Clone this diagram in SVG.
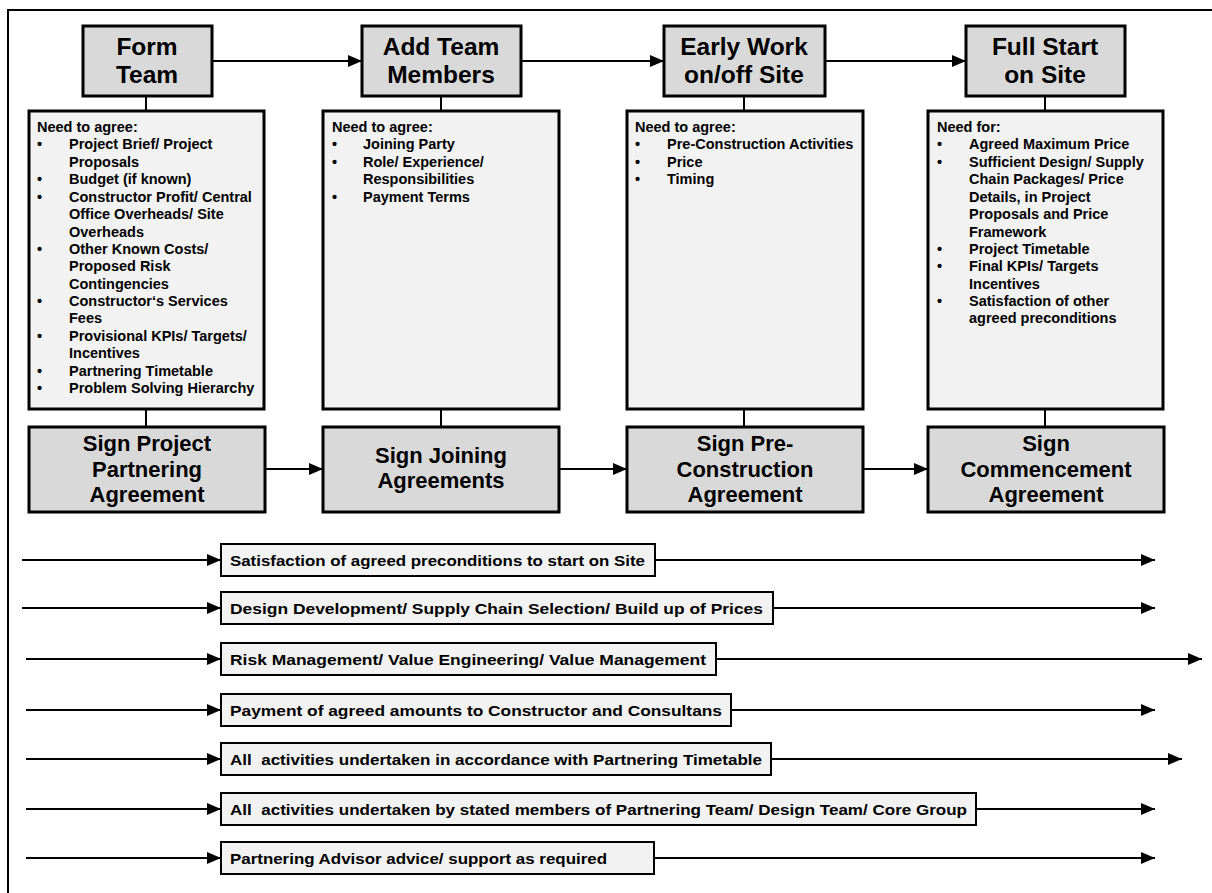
<svg xmlns="http://www.w3.org/2000/svg" width="1212" height="893" viewBox="0 0 1212 893">
  <defs>
    <marker id="arrow" markerUnits="userSpaceOnUse" markerWidth="14" markerHeight="12" refX="14" refY="6" orient="auto">
      <path d="M0,0 L14,6 L0,12 Z" fill="#000"/>
    </marker>
    <style>
      .stage { fill: #d9d9d9; stroke: #000; stroke-width: 3; }
      .list { fill: #f2f2f2; stroke: #000; stroke-width: 3; }
      .bar { fill: #f2f2f2; stroke: #000; stroke-width: 2; }
      .link { stroke: #000; stroke-width: 2; fill: none; }
      .flow { stroke: #000; stroke-width: 2; fill: none; marker-end: url(#arrow); }
      .title { font-family: "Liberation Sans", Arial, sans-serif; font-weight: bold; font-size: 24.5px; text-anchor: middle; fill: #000; }
      .sign { font-family: "Liberation Sans", Arial, sans-serif; font-weight: bold; font-size: 22px; text-anchor: middle; fill: #000; }
      .item { font-family: "Liberation Sans", Arial, sans-serif; font-weight: bold; font-size: 14.5px; fill: #000; }
      .label { font-family: "Liberation Sans", Arial, sans-serif; font-weight: bold; font-size: 15.5px; fill: #000; }
    </style>
  </defs>

  <rect width="1212" height="893" fill="#fff"/>
  <!-- outer frame (runs off the right and bottom edges) -->
  <rect x="8" y="10" width="1230" height="900" fill="none" stroke="#000" stroke-width="2"/>

  <!-- connectors -->
  <g id="connectors">
    <line class="flow" x1="212" y1="61" x2="362" y2="61"/>
    <line class="flow" x1="521" y1="61" x2="664" y2="61"/>
    <line class="flow" x1="825" y1="61" x2="966" y2="61"/>

    <line class="link" x1="146" y1="96" x2="146" y2="111"/>
    <line class="link" x1="441" y1="96" x2="441" y2="111"/>
    <line class="link" x1="744" y1="96" x2="744" y2="111"/>
    <line class="link" x1="1045" y1="96" x2="1045" y2="111"/>

    <line class="link" x1="146" y1="409" x2="146" y2="427"/>
    <line class="link" x1="441" y1="409" x2="441" y2="427"/>
    <line class="link" x1="744" y1="409" x2="744" y2="427"/>
    <line class="link" x1="1045" y1="409" x2="1045" y2="427"/>

    <line class="flow" x1="265" y1="469" x2="323" y2="469"/>
    <line class="flow" x1="559" y1="469" x2="627" y2="469"/>
    <line class="flow" x1="863" y1="469" x2="928" y2="469"/>

    <line class="flow" x1="22" y1="560" x2="221" y2="560"/>
    <line class="flow" x1="655" y1="560" x2="1155" y2="560"/>
    <line class="flow" x1="22" y1="608" x2="221" y2="608"/>
    <line class="flow" x1="773" y1="608" x2="1155" y2="608"/>
    <line class="flow" x1="26" y1="659" x2="221" y2="659"/>
    <line class="flow" x1="716" y1="659" x2="1202" y2="659"/>
    <line class="flow" x1="26" y1="710" x2="221" y2="710"/>
    <line class="flow" x1="731" y1="710" x2="1155" y2="710"/>
    <line class="flow" x1="26" y1="759" x2="221" y2="759"/>
    <line class="flow" x1="771" y1="759" x2="1182" y2="759"/>
    <line class="flow" x1="26" y1="809" x2="221" y2="809"/>
    <line class="flow" x1="976" y1="809" x2="1155" y2="809"/>
    <line class="flow" x1="26" y1="858" x2="221" y2="858"/>
    <line class="flow" x1="654" y1="858" x2="1155" y2="858"/>
  </g>

  <!-- stage headers -->
  <g id="form-team">
    <rect class="stage" x="83" y="26" width="129" height="70"/>
    <text class="title" x="147" y="55">Form</text>
    <text class="title" x="147" y="83">Team</text>
  </g>
  <g id="add-team-members">
    <rect class="stage" x="362" y="26" width="159" height="70"/>
    <text class="title" x="441" y="55">Add Team</text>
    <text class="title" x="441" y="83">Members</text>
  </g>
  <g id="early-work">
    <rect class="stage" x="664" y="26" width="161" height="70"/>
    <text class="title" x="744" y="55">Early Work</text>
    <text class="title" x="744" y="83">on/off Site</text>
  </g>
  <g id="full-start">
    <rect class="stage" x="966" y="26" width="159" height="70"/>
    <text class="title" x="1045" y="55">Full Start</text>
    <text class="title" x="1045" y="83">on Site</text>
  </g>

  <!-- requirement lists -->
  <g id="list-form-team">
    <rect class="list" x="29" y="111" width="235" height="298"/>
    <text class="item" x="37" y="132">Need to agree:</text>
    <text class="item" x="37" y="149">•</text><text class="item" x="69" y="149">Project Brief/ Project</text>
    <text class="item" x="69" y="167">Proposals</text>
    <text class="item" x="37" y="184">•</text><text class="item" x="69" y="184">Budget (if known)</text>
    <text class="item" x="37" y="202">•</text><text class="item" x="69" y="202">Constructor Profit/ Central</text>
    <text class="item" x="69" y="219">Office Overheads/ Site</text>
    <text class="item" x="69" y="237">Overheads</text>
    <text class="item" x="37" y="254">•</text><text class="item" x="69" y="254">Other Known Costs/</text>
    <text class="item" x="69" y="271">Proposed Risk</text>
    <text class="item" x="69" y="289">Contingencies</text>
    <text class="item" x="37" y="306">•</text><text class="item" x="69" y="306">Constructor‘s Services</text>
    <text class="item" x="69" y="323">Fees</text>
    <text class="item" x="37" y="341">•</text><text class="item" x="69" y="341">Provisional KPIs/ Targets/</text>
    <text class="item" x="69" y="358">Incentives</text>
    <text class="item" x="37" y="376">•</text><text class="item" x="69" y="376">Partnering Timetable</text>
    <text class="item" x="37" y="393">•</text><text class="item" x="69" y="393">Problem Solving Hierarchy</text>
  </g>
  <g id="list-add-team">
    <rect class="list" x="323" y="111" width="236" height="298"/>
    <text class="item" x="332" y="132">Need to agree:</text>
    <text class="item" x="332" y="149">•</text><text class="item" x="363" y="149">Joining Party</text>
    <text class="item" x="332" y="167">•</text><text class="item" x="363" y="167">Role/ Experience/</text>
    <text class="item" x="363" y="184">Responsibilities</text>
    <text class="item" x="332" y="202">•</text><text class="item" x="363" y="202">Payment Terms</text>
  </g>
  <g id="list-early-work">
    <rect class="list" x="627" y="111" width="236" height="298"/>
    <text class="item" x="635" y="132">Need to agree:</text>
    <text class="item" x="635" y="149">•</text><text class="item" x="667" y="149">Pre-Construction Activities</text>
    <text class="item" x="635" y="167">•</text><text class="item" x="667" y="167">Price</text>
    <text class="item" x="635" y="184">•</text><text class="item" x="667" y="184">Timing</text>
  </g>
  <g id="list-full-start">
    <rect class="list" x="928" y="111" width="235" height="298"/>
    <text class="item" x="937" y="132">Need for:</text>
    <text class="item" x="937" y="149">•</text><text class="item" x="969" y="149">Agreed Maximum Price</text>
    <text class="item" x="937" y="167">•</text><text class="item" x="969" y="167">Sufficient Design/ Supply</text>
    <text class="item" x="969" y="184">Chain Packages/ Price</text>
    <text class="item" x="969" y="202">Details, in Project</text>
    <text class="item" x="969" y="219">Proposals and Price</text>
    <text class="item" x="969" y="237">Framework</text>
    <text class="item" x="937" y="254">•</text><text class="item" x="969" y="254">Project Timetable</text>
    <text class="item" x="937" y="271">•</text><text class="item" x="969" y="271">Final KPIs/ Targets</text>
    <text class="item" x="969" y="289">Incentives</text>
    <text class="item" x="937" y="306">•</text><text class="item" x="969" y="306">Satisfaction of other</text>
    <text class="item" x="969" y="323">agreed preconditions</text>
  </g>

  <!-- agreements to sign -->
  <g id="sign-partnering">
    <rect class="stage" x="29" y="427" width="236" height="85"/>
    <text class="sign" x="147" y="451">Sign Project</text>
    <text class="sign" x="147" y="477">Partnering</text>
    <text class="sign" x="147" y="502">Agreement</text>
  </g>
  <g id="sign-joining">
    <rect class="stage" x="323" y="427" width="236" height="85"/>
    <text class="sign" x="441" y="463">Sign Joining</text>
    <text class="sign" x="441" y="488">Agreements</text>
  </g>
  <g id="sign-pre-construction">
    <rect class="stage" x="627" y="427" width="236" height="85"/>
    <text class="sign" x="745" y="451">Sign Pre-</text>
    <text class="sign" x="745" y="477">Construction</text>
    <text class="sign" x="745" y="502">Agreement</text>
  </g>
  <g id="sign-commencement">
    <rect class="stage" x="928" y="427" width="236" height="85"/>
    <text class="sign" x="1046" y="451">Sign</text>
    <text class="sign" x="1046" y="477">Commencement</text>
    <text class="sign" x="1046" y="502">Agreement</text>
  </g>

  <!-- ongoing activities -->
  <g id="activity-preconditions">
    <rect class="bar" x="221" y="544" width="434" height="32"/>
    <text class="label" x="230" y="566" textLength="415" lengthAdjust="spacingAndGlyphs">Satisfaction of agreed preconditions to start on Site</text>
  </g>
  <g id="activity-design">
    <rect class="bar" x="221" y="592" width="552" height="32"/>
    <text class="label" x="230" y="614" textLength="533" lengthAdjust="spacingAndGlyphs">Design Development/ Supply Chain Selection/ Build up of Prices</text>
  </g>
  <g id="activity-risk">
    <rect class="bar" x="221" y="643" width="495" height="32"/>
    <text class="label" x="230" y="665" textLength="476" lengthAdjust="spacingAndGlyphs">Risk Management/ Value Engineering/ Value Management</text>
  </g>
  <g id="activity-payment">
    <rect class="bar" x="221" y="694" width="510" height="32"/>
    <text class="label" x="230" y="716" textLength="492" lengthAdjust="spacingAndGlyphs">Payment of agreed amounts to Constructor and Consultans</text>
  </g>
  <g id="activity-timetable">
    <rect class="bar" x="221" y="743" width="550" height="32"/>
    <text class="label" x="230" y="765" textLength="532" lengthAdjust="spacingAndGlyphs" xml:space="preserve">All  activities undertaken in accordance with Partnering Timetable</text>
  </g>
  <g id="activity-members">
    <rect class="bar" x="221" y="793" width="755" height="32"/>
    <text class="label" x="230" y="815" textLength="737" lengthAdjust="spacingAndGlyphs" xml:space="preserve">All  activities undertaken by stated members of Partnering Team/ Design Team/ Core Group</text>
  </g>
  <g id="activity-advisor">
    <rect class="bar" x="221" y="842" width="433" height="32"/>
    <text class="label" x="230" y="864" textLength="377" lengthAdjust="spacingAndGlyphs">Partnering Advisor advice/ support as required</text>
  </g>
</svg>
